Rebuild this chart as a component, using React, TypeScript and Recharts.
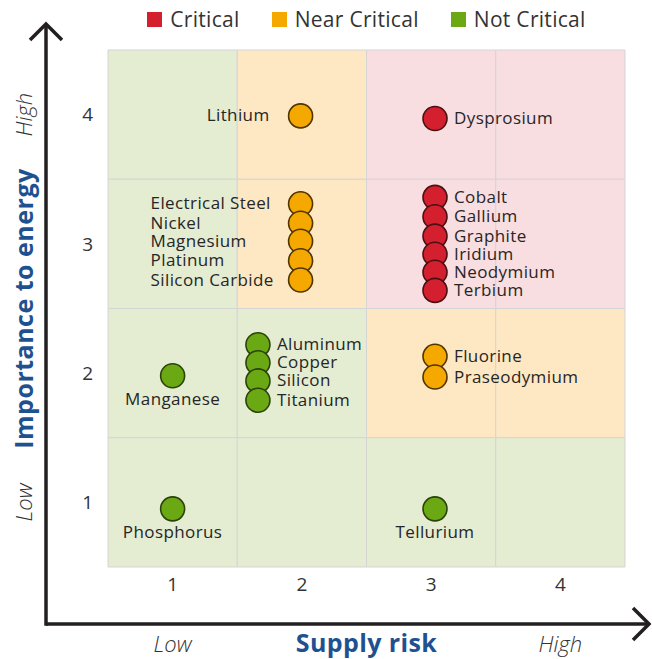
import React from "react";
import { ScatterChart, Scatter, XAxis, YAxis, ReferenceArea, Legend } from "recharts";

// ---- data ----
const categories = ["Critical", "Near Critical", "Not Critical"];

const criticalNames = ["Dysprosium", "Cobalt", "Gallium", "Graphite", "Iridium", "Neodymium", "Terbium"];
const criticalSupply = [3.03, 3.03, 3.03, 3.03, 3.03, 3.03, 3.03];
const criticalImportance = [3.97, 3.36, 3.21, 3.06, 2.92, 2.78, 2.64];

const nearNames = ["Lithium", "Electrical Steel", "Nickel", "Magnesium", "Platinum", "Silicon Carbide", "Fluorine", "Praseodymium"];
const nearSupply = [1.99, 1.99, 1.99, 1.99, 1.99, 1.99, 3.03, 3.03];
const nearImportance = [3.99, 3.31, 3.16, 3.02, 2.87, 2.72, 2.13, 1.97];

const notNames = ["Manganese", "Aluminum", "Copper", "Silicon", "Titanium", "Phosphorus", "Tellurium"];
const notSupply = [1.0, 1.66, 1.66, 1.66, 1.66, 1.0, 3.03];
const notImportance = [1.98, 2.22, 2.08, 1.94, 1.79, 0.95, 0.95];

const riskTicks = [1, 2, 3, 4];
const importanceTicks = [1, 2, 3, 4];

// zone of each cell, rows from importance 4 down to 1, columns supply 1..4
const zoneRows = [
  ["Not Critical", "Near Critical", "Critical", "Critical"],
  ["Not Critical", "Near Critical", "Critical", "Critical"],
  ["Not Critical", "Not Critical", "Near Critical", "Near Critical"],
  ["Not Critical", "Not Critical", "Not Critical", "Not Critical"],
];

// ---- styles ----
const FONT = "'Open Sans', sans-serif";
const TEXT = "#262626";
const BLUE = "#1f5190";
const dotColor: Record<string, string> = {
  Critical: "#d41f2f",
  "Near Critical": "#f5a800",
  "Not Critical": "#6aa913",
};
const dotStroke: Record<string, string> = {
  Critical: "#4a1014",
  "Near Critical": "#4f3500",
  "Not Critical": "#2b420b",
};
const zoneFill: Record<string, string> = {
  Critical: "#f8dde1",
  "Near Critical": "#fde8c3",
  "Not Critical": "#e4ecd2",
};

// label placement per material
const labelPlace: Record<string, string> = {
  Lithium: "left",
  "Electrical Steel": "block",
  Nickel: "block",
  Magnesium: "block",
  Platinum: "block",
  "Silicon Carbide": "block",
  Manganese: "below",
  Phosphorus: "below",
  Tellurium: "below",
};

const W = 652;
const H = 659;
const AXIS_X = 46;
const AXIS_Y = 624;

const toPoints = (names: string[], xs: number[], ys: number[]) =>
  names.map((name, i) => ({ name, x: xs[i], y: ys[i] }));

const series = [
  { name: "Critical", data: toPoints(criticalNames, criticalSupply, criticalImportance) },
  { name: "Near Critical", data: toPoints(nearNames, nearSupply, nearImportance) },
  { name: "Not Critical", data: toPoints(notNames, notSupply, notImportance) },
];

const makeShape = (cat: string) => (props: any) => {
  const { cx, cy, payload } = props;
  const place = labelPlace[payload.name] || "right";
  let tx = cx + 19;
  let ty = cy - 1;
  let anchor: "start" | "end" | "middle" = "start";
  if (place === "left") {
    tx = cx - 31;
    anchor = "end";
  } else if (place === "block") {
    tx = cx - 150;
  } else if (place === "below") {
    tx = cx;
    ty = cy + 23;
    anchor = "middle";
  }
  return (
    <g>
      <circle cx={cx} cy={cy} r={12} fill={dotColor[cat]} stroke={dotStroke[cat]} strokeWidth={1.6} />
      <text
        x={tx}
        y={ty}
        textAnchor={anchor}
        dominantBaseline="central"
        fontFamily={FONT}
        fontSize={17}
        letterSpacing={0.4}
        fill={TEXT}
      >
        {payload.name}
      </text>
    </g>
  );
};

const renderLegend = () => (
  <div
    style={{
      display: "flex",
      justifyContent: "center",
      alignItems: "center",
      fontFamily: FONT,
      fontSize: 21,
      letterSpacing: 0.3,
      color: "#333",
    }}
  >
    {categories.map((c) => (
      <div key={c} style={{ display: "flex", alignItems: "center", margin: "0 16px" }}>
        <span style={{ width: 15, height: 15, background: dotColor[c], marginRight: 8, display: "inline-block" }} />
        <span>{c}</span>
      </div>
    ))}
  </div>
);

const XTitle = (props: any) => {
  const { viewBox } = props;
  const cxMid = viewBox.x + viewBox.width / 2;
  const unit = viewBox.width / 4;
  const ty = 642;
  return (
    <g fontFamily={FONT}>
      <line x1={AXIS_X} y1={AXIS_Y} x2={W - 3} y2={AXIS_Y} stroke="#231f20" strokeWidth={3.5} />
      <polyline
        points={`${W - 19},${AXIS_Y - 16} ${W - 3},${AXIS_Y} ${W - 19},${AXIS_Y + 16}`}
        fill="none"
        stroke="#231f20"
        strokeWidth={3.5}
      />
      <text x={cxMid} y={ty} textAnchor="middle" dominantBaseline="central" fontSize={25} letterSpacing={0.4} fontWeight={700} fill={BLUE}>
        Supply risk
      </text>
      <text x={viewBox.x + unit * 0.5} y={ty + 1} textAnchor="middle" dominantBaseline="central" fontSize={22} fontStyle="italic" fontWeight={300} fill="#333">
        Low
      </text>
      <text x={viewBox.x + unit * 3.5} y={ty + 1} textAnchor="middle" dominantBaseline="central" fontSize={22} fontStyle="italic" fontWeight={300} fill="#333">
        High
      </text>
    </g>
  );
};

const YTitle = (props: any) => {
  const { viewBox } = props;
  const cyMid = viewBox.y + viewBox.height / 2;
  const unit = viewBox.height / 4;
  const tx = 23;
  const rotated = (y: number) => `rotate(-90 ${tx} ${y})`;
  return (
    <g fontFamily={FONT}>
      <line x1={AXIS_X} y1={AXIS_Y + 1.75} x2={AXIS_X} y2={24} stroke="#231f20" strokeWidth={3.5} />
      <polyline
        points={`${AXIS_X - 16},${40} ${AXIS_X},${24} ${AXIS_X + 16},${40}`}
        fill="none"
        stroke="#231f20"
        strokeWidth={3.5}
      />
      <text
        x={tx}
        y={cyMid}
        transform={rotated(cyMid)}
        textAnchor="middle"
        dominantBaseline="central"
        fontSize={25}
        letterSpacing={0.5}
        fontWeight={700}
        fill={BLUE}
      >
        Importance to energy
      </text>
      <text
        x={tx}
        y={viewBox.y + unit * 0.5}
        transform={rotated(viewBox.y + unit * 0.5)}
        textAnchor="middle"
        dominantBaseline="central"
        fontSize={22}
        fontStyle="italic"
        fontWeight={300}
        fill="#333"
      >
        High
      </text>
      <text
        x={tx}
        y={viewBox.y + unit * 3.5}
        transform={rotated(viewBox.y + unit * 3.5)}
        textAnchor="middle"
        dominantBaseline="central"
        fontSize={22}
        fontStyle="italic"
        fontWeight={300}
        fill="#333"
      >
        Low
      </text>
    </g>
  );
};

export default function App() {
  return (
    <div style={{ position: "absolute", left: 0, top: 0, background: "#fff" }}>
      <ScatterChart width={W} height={H} margin={{ top: 50, right: 27, bottom: 52, left: 48 }}>
        {zoneRows.map((row, r) =>
          row.map((zone, c) => (
            <ReferenceArea
              key={`${r}-${c}`}
              x1={c + 0.5}
              x2={c + 1.5}
              y1={4.5 - r}
              y2={3.5 - r}
              fill={zoneFill[zone]}
              fillOpacity={1}
              stroke="#d5d5d5"
              strokeWidth={1}
            />
          ))
        )}
        <XAxis
          type="number"
          dataKey="x"
          domain={[0.5, 4.5]}
          ticks={riskTicks}
          height={40}
          axisLine={false}
          tickLine={false}
          tickSize={0}
          tickMargin={11}
          tick={{ fontSize: 19, fill: "#333", fontFamily: FONT }}
          label={<XTitle />}
        />
        <YAxis
          type="number"
          dataKey="y"
          domain={[0.5, 4.5]}
          ticks={importanceTicks}
          width={60}
          axisLine={false}
          tickLine={false}
          tickSize={0}
          tickMargin={15}
          tick={{ fontSize: 19, fill: "#333", fontFamily: FONT }}
          label={<YTitle />}
        />
        <Legend
          verticalAlign="middle"
          align="center"
          layout="horizontal"
          wrapperStyle={{ top: 5, left: 108, width: 517 }}
          content={renderLegend}
        />
        {series.map((s) => (
          <Scatter
            key={s.name}
            name={s.name}
            data={s.data}
            fill={dotColor[s.name]}
            shape={makeShape(s.name)}
            isAnimationActive={false}
          />
        ))}
      </ScatterChart>
    </div>
  );
}
